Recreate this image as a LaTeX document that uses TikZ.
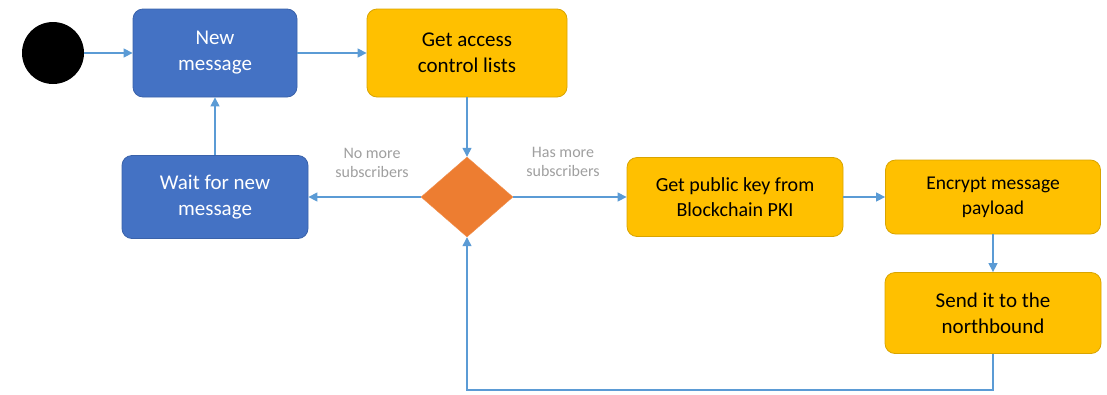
\documentclass[tikz,border=0pt]{standalone}
\usepackage{fontspec}
\setmainfont{Carlito}
\usetikzlibrary{arrows.meta,shapes.geometric}
\definecolor{BoxBlue}{HTML}{4472C4}
\definecolor{BoxBlueLine}{HTML}{3A62AA}
\definecolor{BoxGold}{HTML}{FFC000}
\definecolor{BoxGoldLine}{HTML}{D9A400}
\definecolor{DecOrange}{HTML}{ED7D31}
\definecolor{FlowLine}{HTML}{5B9BD5}

\begin{document}
\begin{tikzpicture}[x=1pt,y=-1pt,
box/.style={draw,line width=0.8pt,rounded corners=10pt,align=center,inner sep=0pt},
bluebox/.style={box,draw=BoxBlueLine,fill=BoxBlue,text=white},
goldbox/.style={box,draw=BoxGoldLine,fill=BoxGold,text=black},
flow/.style={draw=FlowLine,line width=1.3pt,-{Triangle[length=9pt,width=9pt]}},
lbl/.style={text=gray!75,font=\fontsize{16}{19}\selectfont,align=center}]

\useasboundingbox (0,0) rectangle (1107,394);

\node[circle,fill=black,minimum size=62pt,inner sep=0pt] (start) at (53,53) {};
\node[bluebox,minimum width=164pt,minimum height=88pt,font=\fontsize{21}{26}\selectfont] (newmsg) at (215,53) {New\\message};
\node[goldbox,minimum width=200pt,minimum height=88pt,font=\fontsize{21}{26}\selectfont] (acl) at (467,53) {Get access\\control lists};
\node[bluebox,minimum width=186pt,minimum height=83pt,font=\fontsize{21}{26}\selectfont] (wait) at (215,197) {Wait for new\\message};
\node[diamond,fill=DecOrange,draw=DecOrange!85!white,minimum width=92pt,minimum height=80pt,inner sep=0pt] (dec) at (467,197) {};
\node[goldbox,minimum width=216pt,minimum height=79pt,font=\fontsize{20}{25}\selectfont] (pubkey) at (735,197) {Get public key from\\Blockchain PKI};
\node[goldbox,minimum width=215pt,minimum height=74pt,font=\fontsize{19.5}{25}\selectfont] (encrypt) at (993,197) {Encrypt message\\payload};
\node[goldbox,minimum width=216pt,minimum height=81pt,font=\fontsize{21}{26}\selectfont] (send) at (993,313) {Send it to the\\northbound};
\coordinate (loopR) at (993,390);
\coordinate (loopL) at (467,390);

\node[lbl] (nomore) at (372,163) {No more\\subscribers};
\node[lbl] (hasmore) at (563,162) {Has more\\subscribers};

\draw[flow] (start.east) -- (newmsg.west);
\draw[flow] (newmsg.east) -- (acl.west);
\draw[flow] (acl.south) -- (dec.north);
\draw[flow] (dec.west) -- (wait.east);
\draw[flow] (wait.north) -- (newmsg.south);
\draw[flow] (dec.east) -- (pubkey.west);
\draw[flow] (pubkey.east) -- (encrypt.west);
\draw[flow] (encrypt.south) -- (send.north);
\draw[flow] (send.south) -- (loopR) -- (loopL) -- (dec.south);

\end{tikzpicture}
\end{document}
